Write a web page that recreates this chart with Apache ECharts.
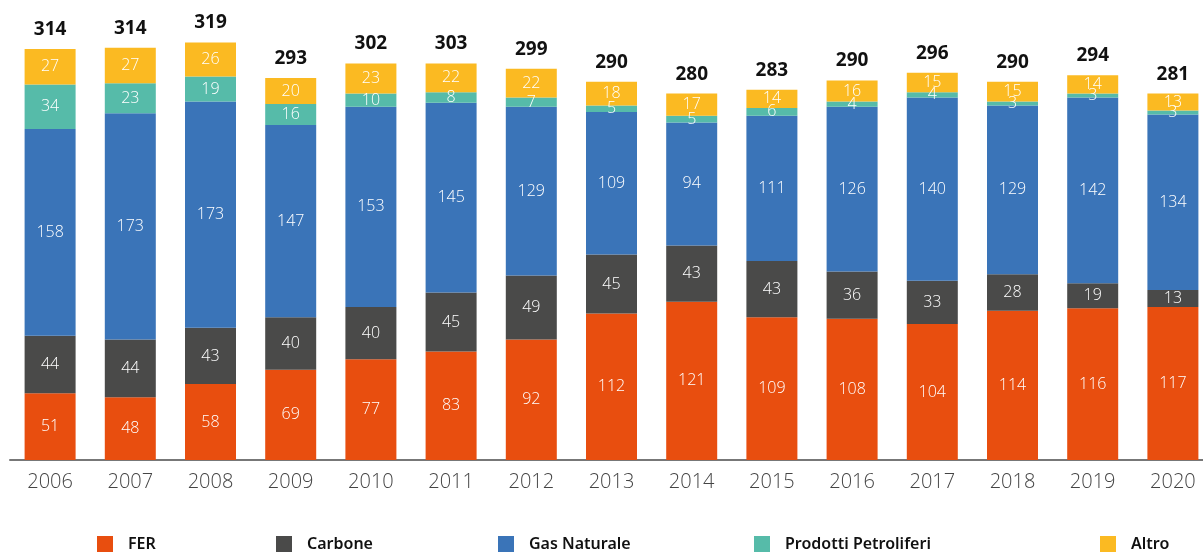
<!DOCTYPE html>
<html><head><meta charset="utf-8">
<script src="https://cdn.jsdelivr.net/npm/echarts@6/dist/echarts.min.js"></script>
<style>html,body{margin:0;padding:0;background:#fff;overflow:hidden}#c{width:1225px;height:552px}</style>
</head><body><div id="c"></div>
<script>
const years = ['2006','2007','2008','2009','2010','2011','2012','2013','2014','2015','2016','2017','2018','2019','2020'];
const fer = [51,48,58,69,77,83,92,112,121,109,108,104,114,116,117];
const carbone = [44,44,43,40,40,45,49,45,43,43,36,33,28,19,13];
const gas = [158,173,173,147,153,145,129,109,94,111,126,140,129,142,134];
const petroliferi = [34,23,19,16,10,8,7,5,5,6,4,4,3,3,3];
const altro = [27,27,26,20,23,22,22,18,17,14,16,15,15,14,13];
const totals = [314,314,319,293,302,303,299,290,280,283,290,296,290,294,281];

const names = ['FER','Carbone','Gas Naturale','Prodotti Petroliferi','Altro'];
const colors = ['#E84E0F','#4A4A49','#3A74B8','#56BBA9','#FBBA22'];
const datas = [fer, carbone, gas, petroliferi, altro];
const legendLeft = [97, 276, 498, 754, 1100];

const series = names.map((n, i) => ({
  name: n, type: 'bar', stack: 't', barWidth: 51, data: datas[i],
  itemStyle: { color: colors[i] },
  label: { show: true, position: 'inside', color: '#fff', fontSize: 16, fontFamily: 'Open Sans', fontWeight: 300 }
}));
series.push({
  name: 'Totale', type: 'bar', stack: 't', barWidth: 51, data: years.map(() => 0),
  itemStyle: { color: 'transparent' },
  label: { show: true, position: 'top', distance: 10, color: '#111', fontSize: 19, fontWeight: 'bold', fontFamily: 'Noto Sans',
    formatter: p => totals[p.dataIndex] }
});

const chart = echarts.init(document.getElementById('c'));
chart.setOption({
  animation: false,
  grid: { left: 10, width: 1203, top: 2, bottom: 92, containLabel: false },
  xAxis: { type: 'category', data: years,
    axisLine: { lineStyle: { color: '#777', width: 2 } }, axisTick: { show: false },
    axisLabel: { color: '#444', fontSize: 20, fontFamily: 'Open Sans', fontWeight: 300, margin: 12 } },
  yAxis: { type: 'value', min: 0, max: 350, show: false, splitLine: { show: false } },
  legend: names.map((n, i) => ({
    data: [n], left: legendLeft[i], top: 536, padding: 0, itemWidth: 16, itemHeight: 16,
    icon: 'rect',
    textStyle: { color: '#111', fontSize: 16, fontWeight: 600, fontFamily: 'Noto Sans', padding: [0, 0, 0, 10] }
  })),
  series: series
});
</script></body></html>
